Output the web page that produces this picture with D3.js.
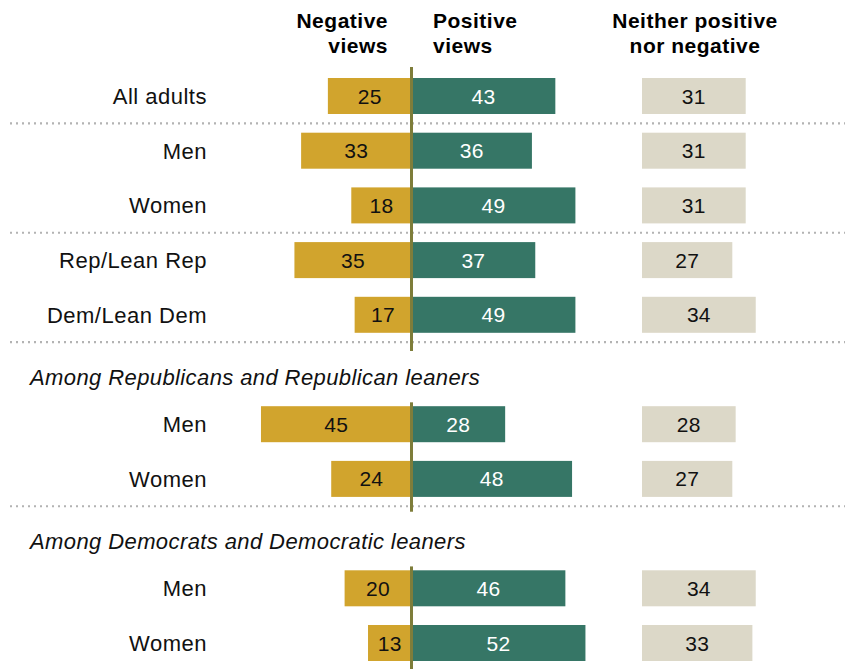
<!DOCTYPE html>
<html><head><meta charset="utf-8">
<script src="https://cdn.jsdelivr.net/npm/d3@7"></script>
<style>body{margin:0;background:#fff}svg{display:block}text{font-family:"Liberation Sans",Arial,sans-serif}</style>
</head><body><svg id="c" width="845" height="669"></svg>
<script>
const labels = ["All adults","Men","Women","Rep/Lean Rep","Dem/Lean Dem","Men","Women","Men","Women"];
const slots = [0,1,2,3,4,6,7,9,10];
const negative = [25,33,18,35,17,45,24,20,13];
const positive = [43,36,49,37,49,28,48,46,52];
const neither = [31,31,31,27,34,28,27,34,33];
const groupHeaders = ["Among Republicans and Republican leaners","Among Democrats and Democratic leaners"];
const groupSlots = [5,8];
const dividerSlots = [0.5,2.5,4.5,7.5];
const colHeaders = [["Negative","views"],["Positive","views"],["Neither positive","nor negative"]];
// axis segments (slot ranges) broken around the group headers
const axisSegments = [[-0.53,4.66],[5.6,7.6],[8.6,10.5]];

const svg = d3.select("#c");
const W = 845;
const y = d3.scaleLinear().domain([0,10]).range([96,643]);
const x = d3.scaleLinear().domain([0,100]).range([0,334.5]);
const cx = 411.5, nx = 642, barH = 36;
const C = {neg:"#d1a42d", pos:"#367666", nei:"#dcd8c8", axis:"#7e7d3a"};

// dividers
svg.selectAll("line.div").data(dividerSlots).join("line")
  .attr("x1",10).attr("x2",W).attr("y1",d=>y(d)).attr("y2",d=>y(d))
  .attr("stroke","#b3b3b3").attr("stroke-width",2.2).attr("stroke-dasharray","2,4").attr("stroke-linecap","butt");

// group headers
svg.selectAll("text.gh").data(groupHeaders).join("text")
  .attr("x",30).attr("y",(d,i)=>y(groupSlots[i])+8).attr("dy","0.35em")
  .attr("font-size",22).attr("letter-spacing",0.4).attr("font-style","italic").attr("fill","#111").text(d=>d);

// column headers
const hx = [388,433,695], ha = ["end","start","middle"];
colHeaders.forEach((h,i)=>{
  h.forEach((t,j)=>{
    svg.append("text").attr("x",hx[i]).attr("y",28+j*25).attr("text-anchor",ha[i])
      .attr("font-size",21).attr("letter-spacing",0.5).attr("font-weight","bold").attr("fill","#000").text(t);
  });
});

const rows = labels.map((l,i)=>({l, s:slots[i], n:negative[i], p:positive[i], e:neither[i]}));

// labels
svg.selectAll("text.lab").data(rows).join("text")
  .attr("x",207).attr("y",d=>y(d.s)).attr("dy","0.36em").attr("text-anchor","end")
  .attr("font-size",22).attr("letter-spacing",0.5).attr("fill","#111").text(d=>d.l);

// negative bars
svg.selectAll("rect.neg").data(rows).join("rect")
  .attr("x",d=>cx-x(d.n)).attr("width",d=>x(d.n)).attr("y",d=>y(d.s)-barH/2).attr("height",barH).attr("fill",C.neg);
svg.selectAll("text.negv").data(rows).join("text")
  .attr("x",d=>cx-x(d.n)/2).attr("y",d=>y(d.s)).attr("dy","0.36em").attr("text-anchor","middle")
  .attr("font-size",21).attr("letter-spacing",0.3).attr("fill","#111").text(d=>d.n);

// positive bars
svg.selectAll("rect.pos").data(rows).join("rect")
  .attr("x",cx).attr("width",d=>x(d.p)).attr("y",d=>y(d.s)-barH/2).attr("height",barH).attr("fill",C.pos);
svg.selectAll("text.posv").data(rows).join("text")
  .attr("x",d=>cx+x(d.p)/2).attr("y",d=>y(d.s)).attr("dy","0.36em").attr("text-anchor","middle")
  .attr("font-size",21).attr("letter-spacing",0.3).attr("fill","#fff").text(d=>d.p);

// neither bars
svg.selectAll("rect.nei").data(rows).join("rect")
  .attr("x",nx).attr("width",d=>x(d.e)).attr("y",d=>y(d.s)-barH/2).attr("height",barH).attr("fill",C.nei);
svg.selectAll("text.neiv").data(rows).join("text")
  .attr("x",d=>nx+x(d.e)/2).attr("y",d=>y(d.s)).attr("dy","0.36em").attr("text-anchor","middle")
  .attr("font-size",21).attr("letter-spacing",0.3).attr("fill","#111").text(d=>d.e);

// center axis (segmented)
svg.selectAll("line.axis").data(axisSegments).join("line")
  .attr("x1",cx).attr("x2",cx).attr("y1",d=>y(d[0])).attr("y2",d=>y(d[1]))
  .attr("stroke",C.axis).attr("stroke-width",3);
</script></body></html>
